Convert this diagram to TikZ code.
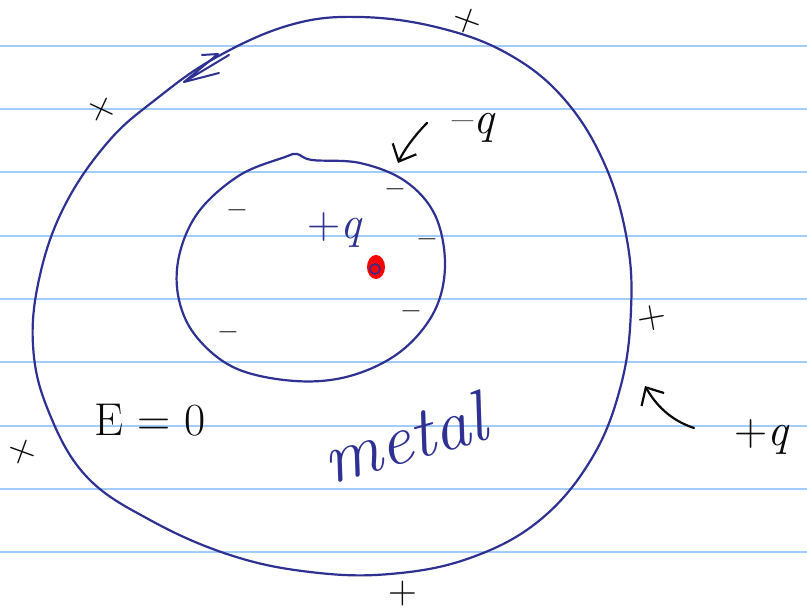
\documentclass[tikz,border=0pt]{standalone}
\usetikzlibrary{arrows.meta}
\definecolor{ink}{RGB}{46,49,146}
\definecolor{rule}{RGB}{160,205,250}
\definecolor{pen}{RGB}{10,10,10}
\begin{document}
\begin{tikzpicture}[x=1pt,y=-1pt,
  ruleline/.style={draw=rule,line width=1.3pt},
  shell/.style={draw=ink,line width=2.2pt,line cap=round,line join=round},
  blk/.style={draw=pen,line width=2.2pt,line cap=round,line join=round},
  bluetext/.style={text=ink,font=\fontsize{46}{46}\selectfont,inner sep=0pt},
  blacktext/.style={text=pen,font=\fontsize{46}{46}\selectfont,inner sep=0pt},
  plusmark/.style={text=pen,font=\fontsize{40}{40}\selectfont,inner sep=0pt},
  minusmark/.style={text=pen,font=\fontsize{30}{30}\selectfont\bfseries,inner sep=0pt},
  barb/.style={-{Straight Barb[length=14pt,width=26pt,line width=2.2pt]}}]
\useasboundingbox (0,0) rectangle (807,613);
\fill[white] (0,0) rectangle (807,613);
% ruled paper
\foreach \yy in {46,109,172,236,299,362,426,489,552}
  \draw[ruleline] (0,\yy) -- (807,\yy);
% outer surface of the metal
\draw[shell] plot[smooth cycle,tension=0.65] coordinates {
 (215,58) (290,25) (360,17) (440,28) (510,55) (565,100) (605,165) (627,240)
 (631,310) (621,385) (592,458) (540,520) (470,558) (390,574) (310,572)
 (230,555) (150,520) (86,476) (48,410) (33,345) (40,275) (65,205) (108,142) (155,100)};
% inner cavity surface
\draw[shell] plot[smooth cycle,tension=0.6] coordinates {
 (285,157) (297,154) (312,160) (360,163) (405,181) (435,215) (445,265) (434,312)
 (400,352) (350,376) (295,381) (235,368) (195,335) (178,295) (180,252) (200,210) (240,175)};
% scribble on the outer surface (top left)
\draw[shell,line width=2pt] (202,55) -- (218,54) -- (184,82) -- (229,55);
\draw[shell,line width=2pt] (184,82) -- (219,73);
% charge in the cavity
\fill[red] (376,267) ellipse (9 and 12);
\draw[ink,line width=1.6pt] (375,269) circle (5);
\node[bluetext] (qin) at (335,230) {+\textit{q}};
% induced charges on the cavity wall
\node[minusmark] (m1) at (237,214) {–};
\node[minusmark] (m2) at (395,193) {–};
\node[minusmark] (m3) at (427,243) {–};
\node[minusmark] (m4) at (411,315) {–};
\node[minusmark] (m5) at (228,336) {–};
% charges on the outer surface
\node[plusmark,rotate=-20] (p1) at (467,21) {+};
\node[plusmark,rotate=-25] (p2) at (102,110) {+};
\node[plusmark,rotate=10] (p3) at (652,318) {+};
\node[plusmark,rotate=-20] (p4) at (22,452) {+};
\node[plusmark] (p5) at (403,594) {+};
% labels
\node[blacktext] (mq) at (474,128) {–\textit{q}};
\node[blacktext] (pq) at (762,437) {+\textit{q}};
\node[blacktext] (E) at (150,420) {E = 0};
\node[bluetext,rotate=16,font=\fontsize{72}{72}\selectfont\itshape] (metal) at (404,438) {metal};
% arrows
\coordinate (ai) at (427,123);
\coordinate (aitip) at (398,163);
\draw[blk,barb] (ai) .. controls (415,135) and (404,150) .. (aitip);
\coordinate (ao) at (694,428);
\coordinate (aotip) at (645,386);
\draw[blk,barb] (ao) .. controls (670,420) and (656,405) .. (aotip);
\end{tikzpicture}
\end{document}
